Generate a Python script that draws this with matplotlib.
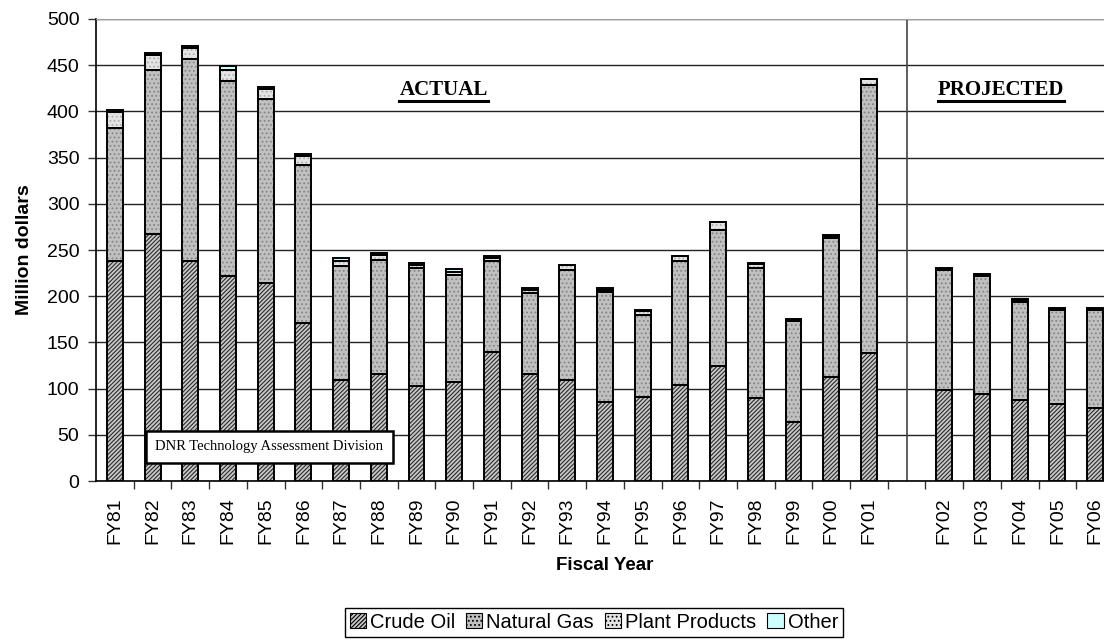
import matplotlib
matplotlib.use('Agg')
import matplotlib.pyplot as plt
from matplotlib.patches import Patch
from matplotlib.lines import Line2D
import numpy as np

years_actual = ['FY81', 'FY82', 'FY83', 'FY84', 'FY85', 'FY86', 'FY87', 'FY88', 'FY89',
                'FY90', 'FY91', 'FY92', 'FY93', 'FY94', 'FY95', 'FY96', 'FY97', 'FY98',
                'FY99', 'FY00', 'FY01']
years_projected = ['FY02', 'FY03', 'FY04', 'FY05', 'FY06']

crude_oil = [238, 267, 238, 222, 214, 171, 109, 116, 103, 107, 140, 116, 109, 86, 91,
             104, 124, 90, 64, 113, 139,
             98, 94, 88, 83, 79]
natural_gas = [144, 178, 219, 211, 199, 171, 124, 123, 127, 116, 98, 87, 119, 119, 89,
               134, 148, 141, 109, 150, 290,
               130, 128, 106, 102, 106]
plant_products = [17, 16, 12, 12, 11, 10, 5, 6, 4, 3, 3, 4, 6, 2, 4,
                  6, 8, 4, 1, 2, 6,
                  1.5, 1.5, 1.5, 1.5, 1.5]
other = [3, 2, 2, 4, 2, 2, 3, 2, 2, 3, 3, 2, 0, 2, 1,
         0, 0, 1, 1.5, 1, 0,
         1.5, 1, 1, 1, 1]

plt.rcParams['font.family'] = ['Liberation Sans', 'DejaVu Sans']
plt.rcParams['hatch.linewidth'] = 0.8

# actual years, one empty slot, then projections
labels = years_actual + [''] + years_projected
pos_actual = list(range(len(years_actual)))
pos_proj = [len(years_actual) + 1 + i for i in range(len(years_projected))]
x = np.array(pos_actual + pos_proj)

fig = plt.figure(figsize=(11.04, 6.44), dpi=100)
ax = fig.add_axes([0.087, 0.2531, 0.922, 0.7174])

series = [
    ('Crude Oil', crude_oil, '#c8c8c8', '////////', '#2a2a2a'),
    ('Natural Gas', natural_gas, '#c0c0c0', '....', '#858585'),
    ('Plant Products', plant_products, '#e4e4e4', '....', '#b0b0b0'),
    ('Other', other, '#ccffff', None, '#ccffff'),
]

width = 0.42
bottom = np.zeros(len(x))
handles = []
for name, vals, fc, hatch, hc in series:
    vals = np.array(vals, dtype=float)
    ax.bar(x, vals, width, bottom=bottom, color=fc, hatch=hatch,
           edgecolor=hc, linewidth=0, zorder=3)
    ax.bar(x, vals, width, bottom=bottom, facecolor='none',
           edgecolor='black', linewidth=1.4, zorder=4)
    bottom += vals
    handles.append(Patch(facecolor=fc, hatch=hatch, edgecolor='black', linewidth=0.8,
                         label=name))

ax.set_ylim(0, 500)
ax.set_xlim(-0.5, 26.5)
ax.set_yticks(np.arange(0, 501, 50))
ax.yaxis.grid(True, color='#222222', linewidth=1.0, zorder=0)
ax.set_axisbelow(True)

ax.set_xticks(np.arange(len(labels)))
ax.set_xticklabels(labels, rotation=90, fontsize=14)
ax.tick_params(axis='x', length=0, pad=12)
ax.set_xticks(np.arange(len(labels)) + 0.5, minor=True)
ax.tick_params(axis='x', which='minor', length=6, width=1, color='#333333')
ax.tick_params(axis='y', labelsize=14, length=6, width=1, color='#333333', pad=6)

ax.spines['top'].set_color('#a0a0a0')
ax.spines['right'].set_visible(False)
ax.spines['left'].set_linewidth(1.2)
ax.spines['bottom'].set_linewidth(1.2)

ax.set_ylabel('Million dollars', fontsize=14, fontweight='bold', labelpad=10)
ax.set_xlabel('Fiscal Year', fontsize=13.5, fontweight='bold', labelpad=9)

# divider between actual and projected years
ax.axvline(len(years_actual), color='#444444', linewidth=1.2, zorder=2)

t1 = ax.text(8.72, 423, 'ACTUAL', ha='center', va='center', fontsize=15,
             fontweight='bold', family='Liberation Serif', zorder=5)
t2 = ax.text(23.5, 423, 'PROJECTED', ha='center', va='center', fontsize=15,
             fontweight='bold', family='Liberation Serif', zorder=5)

ax.text(4.09, 37, 'DNR Technology Assessment Division', ha='center', va='center',
        fontsize=10.5, family='Liberation Serif', zorder=6,
        bbox=dict(boxstyle='square,pad=0.65', facecolor='white', edgecolor='black',
                  linewidth=1.8))

fig.legend(handles=handles, loc='center', bbox_to_anchor=(0.538, 0.034), ncol=4,
           fontsize=14.5, frameon=True, fancybox=False, edgecolor='black',
           handlelength=0.8, handleheight=0.8, handletextpad=0.2, columnspacing=0.55,
           borderpad=0.25, framealpha=1)

# underline the section headings
fig.canvas.draw()
inv = fig.transFigure.inverted()
for t in (t1, t2):
    bb = t.get_window_extent()
    (fx0, fy0), (fx1, _) = inv.transform([(bb.x0, bb.y0 - 1), (bb.x1, bb.y0 - 1)])
    fig.add_artist(Line2D([fx0, fx1], [fy0, fy0], color='black', linewidth=2.2))

fig.savefig('out.png', dpi=100)
